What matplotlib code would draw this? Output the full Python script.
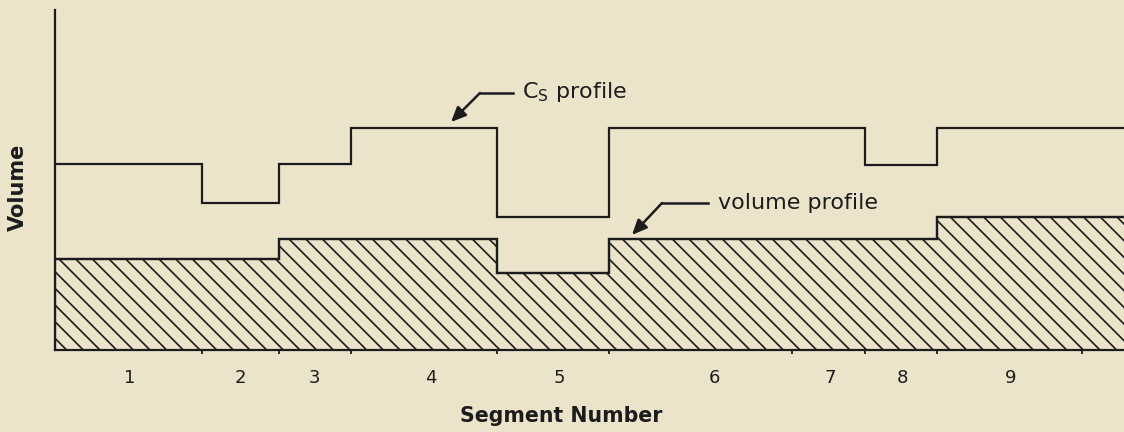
import matplotlib
matplotlib.use("Agg")
import matplotlib.pyplot as plt

# segment boundaries along the line (arbitrary length units)
seg_edges = [0, 14.7, 22.4, 29.6, 44.2, 55.4, 73.7, 81.0, 88.2, 102.7, 112]
seg_labels = ["1", "2", "3", "4", "5", "6", "7", "8", "9"]
label_pos = [7.5, 18.5, 25.9, 37.6, 50.4, 65.9, 77.5, 84.7, 95.6]

# step heights per segment (relative volume)
cs_profile = [84.5, 67, 84.5, 101, 60.5, 101, 101, 84, 101, 101]
volume_profile = [41.5, 41.5, 50.5, 50.5, 35, 50.5, 50.5, 50.5, 60.5, 60.5]

bg = "#ece3cb"
ink = "#1c1c1c"
plt.rcParams["font.family"] = ["DejaVu Sans"]
plt.rcParams["hatch.linewidth"] = 1.2
plt.rcParams["hatch.color"] = ink

fig = plt.figure(figsize=(11.24, 4.32), dpi=100, facecolor=bg)
ax = fig.add_axes([55 / 1124, 82 / 432, 1069 / 1124, 340 / 432])
ax.set_facecolor(bg)

ax.stairs(volume_profile, seg_edges, baseline=0, fill=True, facecolor="none",
          edgecolor=ink, hatch="\\\\", lw=1.6)
ax.stairs(volume_profile, seg_edges, baseline=None, color=ink, lw=1.6)
ax.stairs(cs_profile, seg_edges, baseline=None, color=ink, lw=1.6)

ax.set_xlim(0, 106.9)
ax.set_ylim(0, 154.5)

for s in ["top", "right"]:
    ax.spines[s].set_visible(False)
for s in ["left", "bottom"]:
    ax.spines[s].set_linewidth(1.6)
    ax.spines[s].set_color(ink)

ax.set_yticks([])
ax.set_xticks(seg_edges[1:10])
ax.set_xticklabels([])
ax.tick_params(axis="x", which="major", direction="out", length=3, width=1.3, color=ink)
ax.set_xticks(label_pos, minor=True)
ax.set_xticklabels(seg_labels, minor=True, fontsize=13, color=ink)
ax.tick_params(axis="x", which="minor", length=0, pad=14)

# annotations with bent arrows
arrow = dict(arrowstyle="-|>,head_length=0.9,head_width=0.4",
             color=ink, lw=1.8, shrinkA=0, shrinkB=0)
ax.plot([42.5, 45.8], [116.8, 116.8], color=ink, lw=1.8)
ax.annotate("", xy=(39.6, 103.6), xytext=(42.5, 116.8), arrowprops=arrow)
ax.text(46.7, 117.3, r"C$_\mathregular{S}$ profile", fontsize=16,
        va="center", ha="left", color=ink)

ax.plot([60.7, 65.3], [66.8, 66.8], color=ink, lw=1.8)
ax.annotate("", xy=(57.7, 52.3), xytext=(60.7, 66.8), arrowprops=arrow)
ax.text(66.3, 66.8, "volume profile", fontsize=16, va="center", ha="left",
        color=ink)

fig.text(561 / 1124, 1 - 421.5 / 432, "Segment Number", fontsize=14.8,
         fontweight="bold", ha="center", va="baseline", color=ink)
fig.text(17.5 / 1124, 1 - 187.5 / 432, "Volume", fontsize=15, fontweight="bold",
         rotation=90, ha="center", va="center", color=ink)

fig.savefig("out.png", dpi=100, facecolor=bg)
